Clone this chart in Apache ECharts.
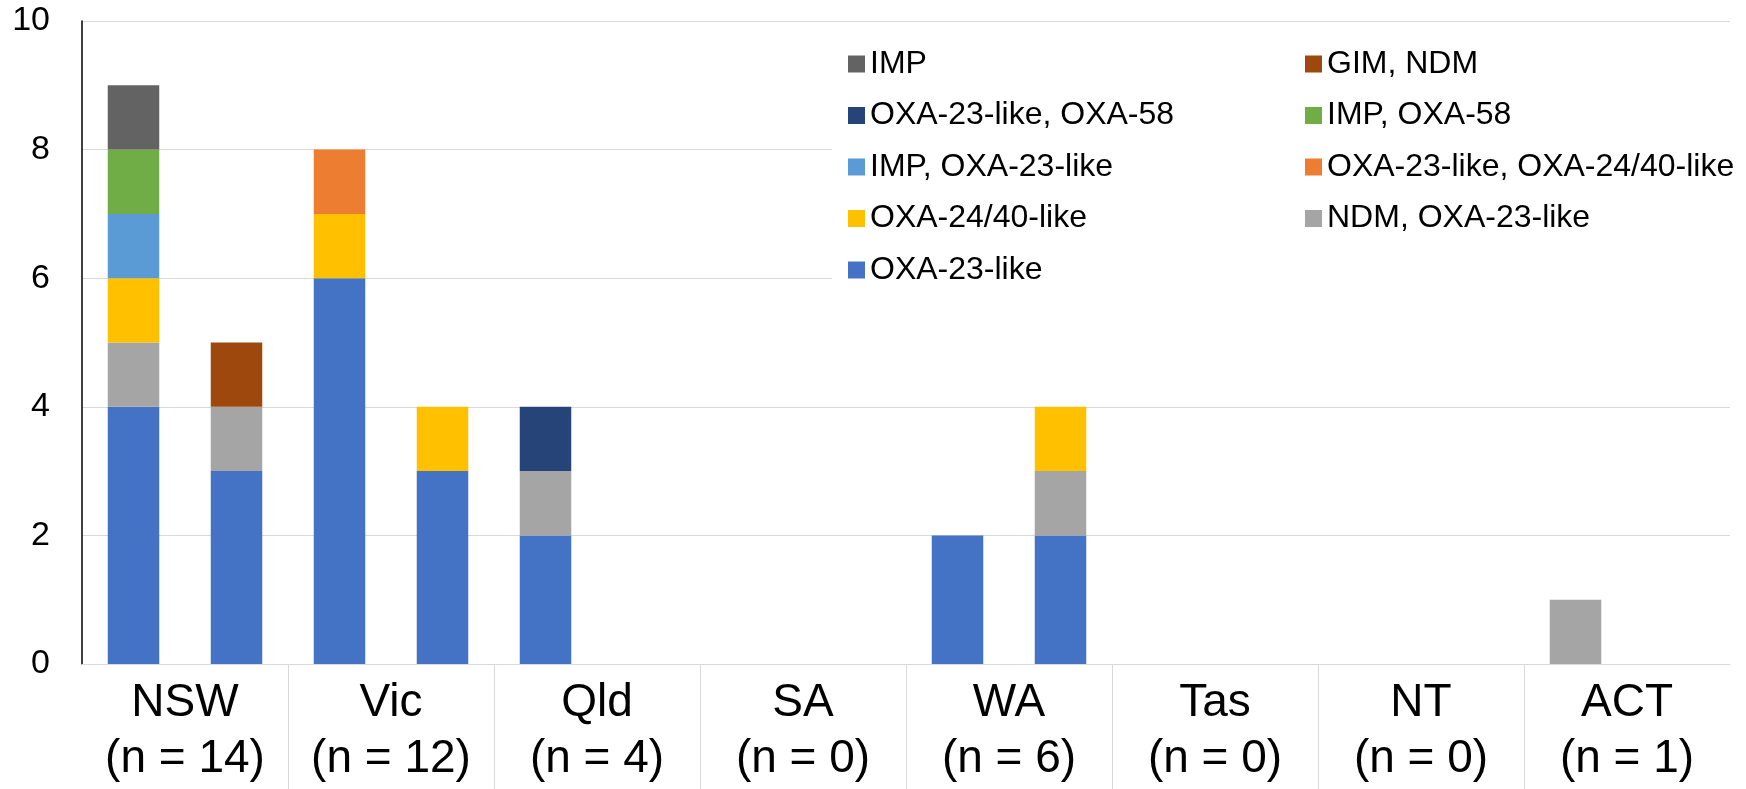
<!DOCTYPE html>
<html>
<head>
<meta charset="utf-8">
<script src="https://cdn.jsdelivr.net/npm/echarts@6/dist/echarts.min.js"></script>
<style>
html,body{margin:0;padding:0;background:#fff;}
#chart{width:1746px;height:789px;}
</style>
</head>
<body>
<div id="chart"></div>
<script>
// ---- data ----
var states = ['NSW', 'Vic', 'Qld', 'SA', 'WA', 'Tas', 'NT', 'ACT'];
var stateN = [14, 12, 4, 0, 6, 0, 0, 1];
// two bars per state
var barSlots = ['NSW a','NSW b','Vic a','Vic b','Qld a','Qld b','SA a','SA b','WA a','WA b','Tas a','Tas b','NT a','NT b','ACT a','ACT b'];
var yTicks = [0, 2, 4, 6, 8, 10];

var oxa23 =         [4, 3, 6, 3, 2, 0, 0, 0, 2, 2, 0, 0, 0, 0, 0, 0];
var ndmOxa23 =      [1, 1, 0, 0, 1, 0, 0, 0, 0, 1, 0, 0, 0, 0, 1, 0];
var oxa2440 =       [1, 0, 1, 1, 0, 0, 0, 0, 0, 1, 0, 0, 0, 0, 0, 0];
var oxa23Oxa2440 =  [0, 0, 1, 0, 0, 0, 0, 0, 0, 0, 0, 0, 0, 0, 0, 0];
var impOxa23 =      [1, 0, 0, 0, 0, 0, 0, 0, 0, 0, 0, 0, 0, 0, 0, 0];
var impOxa58 =      [1, 0, 0, 0, 0, 0, 0, 0, 0, 0, 0, 0, 0, 0, 0, 0];
var oxa23Oxa58 =    [0, 0, 0, 0, 1, 0, 0, 0, 0, 0, 0, 0, 0, 0, 0, 0];
var gimNdm =        [0, 1, 0, 0, 0, 0, 0, 0, 0, 0, 0, 0, 0, 0, 0, 0];
var imp =           [1, 0, 0, 0, 0, 0, 0, 0, 0, 0, 0, 0, 0, 0, 0, 0];

var seriesDefs = [
  {name: 'OXA-23-like', data: oxa23, color: '#4472C4'},
  {name: 'NDM, OXA-23-like', data: ndmOxa23, color: '#A5A5A5'},
  {name: 'OXA-24/40-like', data: oxa2440, color: '#FFC000'},
  {name: 'OXA-23-like, OXA-24/40-like', data: oxa23Oxa2440, color: '#ED7D31'},
  {name: 'IMP, OXA-23-like', data: impOxa23, color: '#5B9BD5'},
  {name: 'IMP, OXA-58', data: impOxa58, color: '#70AD47'},
  {name: 'OXA-23-like, OXA-58', data: oxa23Oxa58, color: '#264478'},
  {name: 'GIM, NDM', data: gimNdm, color: '#9E480E'},
  {name: 'IMP', data: imp, color: '#636363'}
];
var legendLeft = ['IMP', 'OXA-23-like, OXA-58', 'IMP, OXA-23-like', 'OXA-24/40-like', 'OXA-23-like'];
var legendRight = ['GIM, NDM', 'IMP, OXA-58', 'OXA-23-like, OXA-24/40-like', 'NDM, OXA-23-like'];

var FONT = '"Liberation Sans", Arial, Helvetica, sans-serif';
var boundaries = states.map(function (s, i) { return i; }).concat([states.length]);

var chart = echarts.init(document.getElementById('chart'), null, {renderer: 'canvas'});

var legendCommon = {
  orient: 'vertical',
  top: 47,
  padding: 0,
  itemWidth: 17,
  itemHeight: 17,
  itemGap: 17.5,
  icon: 'rect',
  selectedMode: false,
  textStyle: {fontFamily: FONT, fontSize: 32, color: '#000', lineHeight: 34}
};

var option = {
  animation: false,
  backgroundColor: '#fff',
  textStyle: {fontFamily: FONT},
  grid: {left: 82, right: 16, top: 21, bottom: 125, containLabel: false},
  graphic: [{
    type: 'rect', left: 832, top: 33, z: 1,
    shape: {width: 914, height: 265},
    style: {fill: '#fff'}
  }],
  legend: [
    Object.assign({}, legendCommon, {left: 848, data: legendLeft}),
    Object.assign({}, legendCommon, {left: 1305, data: legendRight})
  ],
  xAxis: [
    {
      type: 'category', data: barSlots, position: 'bottom',
      axisLine: {show: true, lineStyle: {color: '#d9d9d9', width: 1}},
      axisTick: {show: false}, axisLabel: {show: false}, splitLine: {show: false}
    },
    {
      type: 'category', data: states, position: 'bottom',
      axisLine: {show: false}, axisTick: {show: false}, splitLine: {show: false},
      axisLabel: {
        show: true, interval: 0, margin: 11, color: '#000',
        fontFamily: FONT, fontSize: 46, lineHeight: 56,
        formatter: function (v, i) { return v + '\n(n = ' + stateN[i] + ')'; }
      }
    },
    {
      type: 'category', data: boundaries, boundaryGap: false, position: 'bottom',
      axisLine: {show: false}, axisLabel: {show: false}, splitLine: {show: false},
      axisTick: {
        show: true, length: 130,
        interval: function (i) { return i > 0 && i < states.length; },
        lineStyle: {color: '#d9d9d9', width: 1}
      }
    }
  ],
  yAxis: {
    type: 'value', min: yTicks[0], max: yTicks[yTicks.length - 1], interval: 2,
    axisLine: {show: true, lineStyle: {color: '#000', width: 1.5}},
    axisTick: {show: false},
    axisLabel: {color: '#000', fontFamily: FONT, fontSize: 34, margin: 32},
    splitLine: {show: true, lineStyle: {color: '#d9d9d9', width: 1}}
  },
  series: seriesDefs.map(function (s) {
    return {
      name: s.name, type: 'bar', stack: 'total', xAxisIndex: 0,
      data: s.data, barWidth: '50%',
      itemStyle: {color: s.color},
      emphasis: {disabled: true}
    };
  })
};
chart.setOption(option);
</script>
</body>
</html>
